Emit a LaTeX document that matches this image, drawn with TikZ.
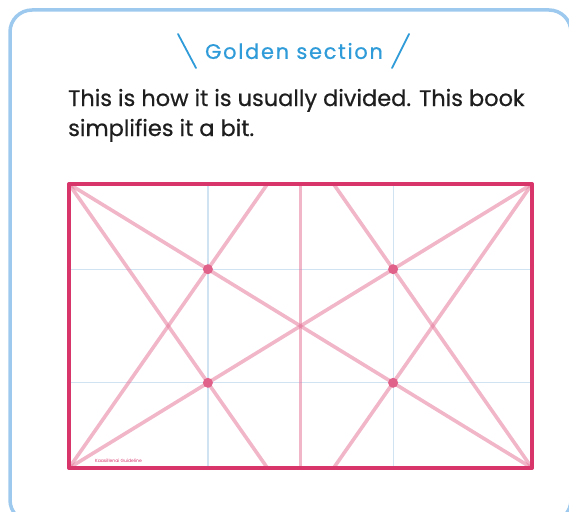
\documentclass[tikz,border=0pt]{standalone}
\usepackage{fontspec}
\setmainfont{Poppins}
\usetikzlibrary{calc}
\definecolor{frame}{HTML}{9DC9EE}
\definecolor{headblue}{HTML}{2F9BD8}
\definecolor{ink}{HTML}{1E1E1E}
\definecolor{edge}{HTML}{D8356A}
\definecolor{guide}{HTML}{E57B9C}
\definecolor{grid}{HTML}{D0E3F3}
\definecolor{pin}{HTML}{E0628A}
\begin{document}
\begin{tikzpicture}[x=1pt,y=-1pt,
  guideline/.style={guide,opacity=0.55,line width=3.6pt,line cap=round},
  gridline/.style={grid,line width=1.2pt},
  pindot/.style={fill=pin},
  head/.style={font=\fontsize{21}{24}\selectfont\addfontfeatures{LetterSpace=8,FakeBold=0.6},text=headblue,inner sep=0pt},
  body/.style={font=\fontsize{22.5}{30}\selectfont\addfontfeatures{FakeBold=0.6},text=ink,inner sep=0pt,align=left},
  credit/.style={font=\fontsize{4.5}{5}\selectfont,text=edge,inner sep=0pt}]
\useasboundingbox (0,0) rectangle (569,511);
% outer frame, cut by the page
\begin{scope}
\clip (0,0) rectangle (569,511);
\draw[frame,line width=3.5pt,rounded corners=22pt] (10,10) rectangle (571,522);
\end{scope}
% heading
\node[head] (heading) at (294,51) {Golden section};
\draw[headblue,line width=1.8pt,line cap=round] (178,34) -- (196,68);
\draw[headblue,line width=1.8pt,line cap=round] (409,34) -- (392,68);
\node[body,anchor=base west] (caption) at (68,136) {This is how it is usually divided. This book\\simplifies it a bit.};
% frame corners
\coordinate (tl) at (69,184);
\coordinate (tr) at (532,184);
\coordinate (bl) at (69,468);
\coordinate (br) at (532,468);
% blue grid at 3/10 and 7/10
\draw[gridline] ($(tl)!0.3!(tr)$) -- ($(bl)!0.3!(br)$);
\draw[gridline] ($(tl)!0.7!(tr)$) -- ($(bl)!0.7!(br)$);
\draw[gridline] ($(tl)!0.3!(bl)$) -- ($(tr)!0.3!(br)$);
\draw[gridline] ($(tl)!0.7!(bl)$) -- ($(tr)!0.7!(br)$);
% pink armature
\draw[guideline] ($(tl)!0.5!(tr)$) -- ($(bl)!0.5!(br)$);
\draw[guideline] (tl) -- (br);
\draw[guideline] (tr) -- (bl);
\draw[guideline] (bl) -- ($(tl)!3/7!(tr)$);
\draw[guideline] (tl) -- ($(bl)!3/7!(br)$);
\draw[guideline] (br) -- ($(tr)!3/7!(tl)$);
\draw[guideline] (tr) -- ($(br)!3/7!(bl)$);
% points
\fill[pindot] (207.9,269.2) circle (5);
\fill[pindot] (393.1,269.2) circle (5);
\fill[pindot] (207.9,382.8) circle (5);
\fill[pindot] (393.1,382.8) circle (5);
\draw[edge,line width=4pt,line join=round] (tl) rectangle (br);
\node[credit,anchor=base west] (credit) at (95,462) {Kaasillenai Guideline};
\end{tikzpicture}
\end{document}
